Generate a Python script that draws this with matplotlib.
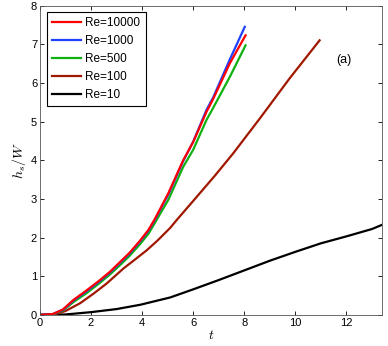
import matplotlib.pyplot as plt

# values
t_re10000 = [0, 0.5, 0.9, 1.31, 1.8, 2.35, 2.75, 3.14, 3.5, 3.92, 4.25, 4.5,
             5.03, 5.61, 6.0, 6.52, 6.78, 7.43, 8.05]
h_re10000 = [0, 0.02, 0.14, 0.385, 0.62, 0.9, 1.12, 1.37, 1.6, 1.92, 2.2, 2.48,
             3.15, 4.0, 4.47, 5.25, 5.58, 6.5, 7.23]

t_re1000 = [0, 0.5, 0.9, 1.31, 1.8, 2.35, 2.75, 3.14, 3.5, 3.92, 4.25, 4.5,
            5.03, 5.61, 6.0, 6.52, 6.78, 7.43, 8.02]
h_re1000 = [0, 0.02, 0.13, 0.37, 0.6, 0.88, 1.1, 1.35, 1.58, 1.9, 2.18, 2.46,
            3.12, 3.98, 4.48, 5.3, 5.62, 6.6, 7.45]

t_re500 = [0, 0.5, 0.9, 1.31, 1.8, 2.35, 2.75, 3.14, 3.5, 3.92, 4.25, 4.5,
           5.03, 5.61, 6.0, 6.52, 6.78, 7.43, 8.05]
h_re500 = [0, 0.015, 0.11, 0.33, 0.55, 0.83, 1.05, 1.29, 1.52, 1.83, 2.1, 2.38,
           2.98, 3.83, 4.27, 5.04, 5.35, 6.15, 6.97]

t_re100 = [0, 0.6, 1.0, 1.57, 2.1, 2.61, 3.27, 3.7, 4.18, 4.6, 5.1, 5.35,
           6.07, 6.85, 7.57, 8.61, 9.78, 10.95]
h_re100 = [0, 0.02, 0.1, 0.3, 0.55, 0.81, 1.2, 1.42, 1.67, 1.92, 2.25, 2.45,
           3.0, 3.6, 4.18, 5.08, 6.12, 7.1]

t_re10 = [0, 1, 2, 3, 3.92, 5.1, 6, 7, 8, 9, 10, 11, 12, 13, 13.4]
h_re10 = [0, 0.01, 0.07, 0.15, 0.26, 0.45, 0.66, 0.9, 1.15, 1.4, 1.63, 1.85,
          2.03, 2.22, 2.33]

series = [
    ("Re=10000", t_re10000, h_re10000, "#ff0000"),
    ("Re=1000", t_re1000, h_re1000, "#2040ff"),
    ("Re=500", t_re500, h_re500, "#10b010"),
    ("Re=100", t_re100, h_re100, "#a01800"),
    ("Re=10", t_re10, h_re10, "#000000"),
]

plt.rcParams["font.family"] = ["Liberation Sans", "DejaVu Sans"]
plt.rcParams["mathtext.fontset"] = "cm"

fig = plt.figure(figsize=(3.88, 3.46), dpi=100)
ax = fig.add_axes([0.103, 0.09, 0.882, 0.894])

# draw in reverse so the high-Re lines sit on top
for label, t, h, color in reversed(series):
    ax.plot(t, h, color=color, lw=1.6, label=label)

handles, labels = ax.get_legend_handles_labels()
leg = ax.legend(handles[::-1], labels[::-1], loc="upper left",
                bbox_to_anchor=(0.01, 0.99), fontsize=8.5, fancybox=False,
                framealpha=1, edgecolor="black", borderpad=0.45,
                labelspacing=0.5, handlelength=2.4, handletextpad=0.4,
                borderaxespad=0.3)
leg.get_frame().set_linewidth(0.8)

ax.text(11.9, 6.6, "(a)", fontsize=9, ha="center", va="center")

ax.set_xlim(0, 13.4)
ax.set_ylim(0, 8)
ax.set_xticks(range(0, 13, 2))
ax.set_yticks(range(0, 9))
ax.tick_params(direction="in", top=True, right=True, labelsize=8,
               length=3, width=0.6, pad=2)
for s in ax.spines.values():
    s.set_linewidth(0.6)
    s.set_color("#555555")

ax.set_xlabel("$t$", fontsize=10, labelpad=0)
ax.set_ylabel("$h_s/W$", fontsize=10, labelpad=2)

fig.savefig("out.png", dpi=100)
